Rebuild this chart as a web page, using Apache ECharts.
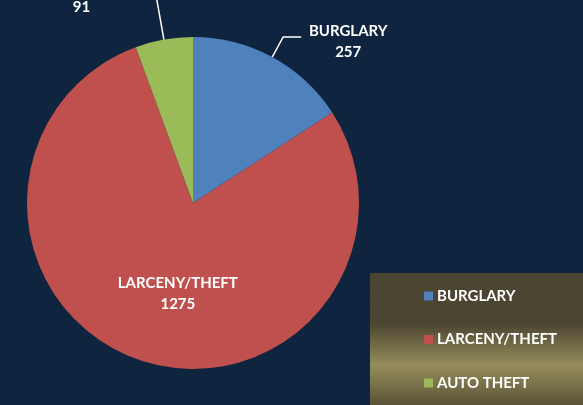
<!DOCTYPE html>
<html>
<head>
    <meta charset="utf-8">
    <title>Property crime</title>
    <script src="https://cdn.jsdelivr.net/npm/echarts@6/dist/echarts.min.js"></script>
    <style>
        html, body { margin: 0; padding: 0; background: #0f243e; }
        #chart1 { width: 583px; height: 405px; }
    </style>
</head>
<body>
<div id="chart1"></div>
<script type="text/javascript">
    // data
    var categories = ['BURGLARY', 'LARCENY/THEFT', 'AUTO THEFT'];
    var counts = [257, 1275, 91];
    var colors = ['#4f81bd', '#c0504d', '#9bbb59'];

    var font = 'Lato, "Open Sans", sans-serif';

    // per slice label setup (outside with leader line, or inside)
    var labelSetup = [
        { position: 'outside', length: 23, length2: 18 },
        { position: 'inside' },
        { position: 'outside', length: 48, length2: 27 }
    ];

    var pieData = categories.map(function (name, i) {
        var s = labelSetup[i];
        var item = {
            name: name,
            value: counts[i],
            itemStyle: { color: colors[i] },
            label: { position: s.position }
        };
        if (s.position === 'outside') {
            item.labelLine = { show: true, length: s.length, length2: s.length2 };
        } else {
            item.labelLine = { show: false };
        }
        return item;
    });

    var myChart1 = echarts.init(document.getElementById('chart1'));
    myChart1.setOption({
        backgroundColor: '#0f243e',
        animation: false,
        graphic: [{
            type: 'rect',
            z: -1,
            shape: { x: 370, y: 273, width: 213, height: 132 },
            style: {
                fill: new echarts.graphic.LinearGradient(0, 0, 0, 1, [
                    { offset: 0, color: '#4a4430' },
                    { offset: 0.38, color: '#4b4531' },
                    { offset: 0.7, color: '#968d5b' },
                    { offset: 1, color: '#5a5336' }
                ])
            }
        }],
        legend: {
            orient: 'vertical',
            left: 424,
            top: 288,
            padding: 0,
            itemWidth: 9,
            itemHeight: 9,
            itemGap: 27.5,
            icon: 'rect',
            selectedMode: false,
            data: categories,
            textStyle: {
                color: '#ffffff',
                fontFamily: font,
                fontWeight: 'bold',
                fontSize: 15,
                lineHeight: 16,
                padding: [0, 0, 0, -1]
            }
        },
        series: [{
            name: 'crime',
            type: 'pie',
            center: [193, 203],
            radius: 166,
            startAngle: 90,
            clockwise: true,
            avoidLabelOverlap: false,
            emphasis: { disabled: true },
            label: {
                color: '#ffffff',
                formatter: '{t|{b}}\n{t|{c}}',
                padding: [9, 0, 0, 0],
                rich: {
                    t: {
                        color: '#ffffff',
                        fontFamily: font,
                        fontWeight: 'bold',
                        fontSize: 15,
                        lineHeight: 21,
                        width: 84,
                        align: 'center'
                    }
                }
            },
            labelLine: {
                lineStyle: { color: '#ffffff', width: 1.5 }
            },
            labelLayout: function (params) {
                if (params.dataIndex === 1) {
                    return { dx: 12, dy: 5 };
                }
            },
            data: pieData
        }]
    });
</script>
</body>
</html>
